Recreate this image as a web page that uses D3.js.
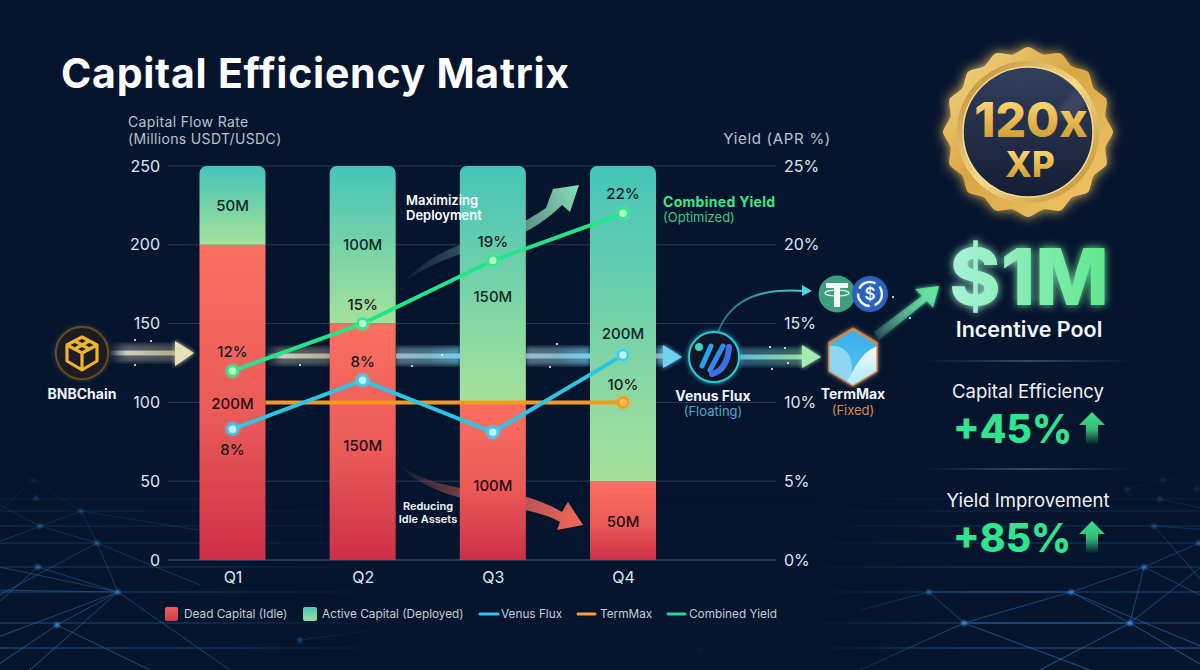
<!DOCTYPE html>
<html>
<head>
<meta charset="utf-8">
<script src="https://cdn.jsdelivr.net/npm/d3@7"></script>
<style>
	html, body { margin: 0; padding: 0; background: #06142c; }
	svg { display: block; }
	text { font-family: Inter, "Open Sans", sans-serif; }
</style>
</head>
<body>
<svg id="chart" width="1200" height="670"></svg>
<script>
const quarters = ["Q1", "Q2", "Q3", "Q4"];
const deadCapital = [200, 150, 100, 50];
const activeCapital = [50, 100, 150, 200];
const venusFlux = [8.3, 11.4, 8.1, 13];
const termMax = [10, 10, 10, 10];
const combinedYield = [12, 15, 19, 22];

const flowTicks = [0, 50, 100, 150, 200, 250];
const yieldTicks = [0, 5, 10, 15, 20, 25];
const deadLabels = ["200M", "150M", "100M", "50M"];
const activeLabels = ["50M", "100M", "150M", "200M"];
const combinedLabels = ["12%", "15%", "19%", "22%"];
const venusLabels = ["8%", "8%", "", ""];
const termLabels = ["", "", "", "10%"];

const legendItems = ["Dead Capital (Idle)", "Active Capital (Deployed)", "Venus Flux", "TermMax", "Combined Yield"];

const svg = d3.select("#chart");
const defs = svg.append("defs");

function linear(id, stops, x2, y2, user) {
	const g = defs.append("linearGradient").attr("id", id)
		.attr("x1", user ? user[0] : 0).attr("y1", user ? user[1] : 0)
		.attr("x2", user ? user[2] : x2).attr("y2", user ? user[3] : y2);
	if (user) g.attr("gradientUnits", "userSpaceOnUse");
	stops.forEach(s => g.append("stop").attr("offset", s[0]).attr("stop-color", s[1]).attr("stop-opacity", s[2] === undefined ? 1 : s[2]));
}

function glow(id, size) {
	const f = defs.append("filter").attr("id", id)
		.attr("x", "-60%").attr("y", "-60%").attr("width", "220%").attr("height", "220%");
	f.append("feGaussianBlur").attr("in", "SourceGraphic").attr("stdDeviation", size).attr("result", "b");
	const m = f.append("feMerge");
	m.append("feMergeNode").attr("in", "b");
	m.append("feMergeNode").attr("in", "SourceGraphic");
}

linear("deadFill", [[0, "#fb6f60"], [0.55, "#ea5a58"], [1, "#cd2f47"]], 0, 1);
linear("activeFill", [[0, "#44c4b8"], [1, "#a6e19a"]], 0, 1);
linear("netFade", [[0, "#2f7fc8", 0], [0.4, "#2f7fc8", 0.45], [1, "#3a8ad8", 0.75]], 0, 0, [0, 470, 0, 670]);
linear("netMaskFill", [[0, "#fff"], [0.17, "#fff", 0.7], [0.32, "#fff", 0.06], [0.68, "#fff", 0.06], [0.8, "#fff", 0.95], [1, "#fff"]], 1, 0);
linear("streakA", [[0, "#fff", 0.05], [0.25, "#f3f1d8", 0.75], [1, "#e3ddb0", 0.65]], 1, 0);
linear("streakB", [[0, "#c8ecf4", 0.6], [0.5, "#9fdcf0", 0.65], [1, "#6fd0f2", 0.95]], 1, 0);
linear("streakC", [[0, "#62c8e8", 0.85], [1, "#a6ecb0", 0.85]], 1, 0);
linear("upArrow", [[0, "#7fe0c0", 0.08], [1, "#63e69a", 1]], 1, 0, [872, 340, 938, 287]);
linear("greenSweep", [[0, "#9fe0cc", 0.02], [0.5, "#9fe0cc", 0.4], [1, "#86dcb6", 1]], 1, 0, [402, 285, 578, 186]);
linear("redSweep", [[0, "#f0726a", 0.03], [0.45, "#e86a62", 0.6], [1, "#f56a58", 1]], 1, 0, [398, 463, 584, 526]);
linear("tealCurve", [[0, "#43b9c6", 0.5], [1, "#4ad6dc", 1]], 1, 0, [718, 335, 812, 290]);
linear("medalRim", [[0, "#f8dc8c"], [0.45, "#d9a544"], [1, "#f4ca6a"]], 1, 1);
linear("medalRing", [[0, "#b98428"], [0.5, "#f6d98a"], [1, "#b8862e"]], 1, 1);
linear("medalCore", [[0, "#33405c"], [1, "#141d36"]], 0, 1);
linear("goldText", [[0, "#ffe68e"], [0.55, "#e6b54a"], [1, "#c18d2c"]], 0, 1);
linear("poolText", [[0, "#a8f2d8"], [1, "#5fe88c"]], 1, 0);
linear("statArrow", [[0, "#3fe08c"], [0.55, "#2fb874"], [1, "#2fb874", 0.05]], 0, 1);
linear("hexFill", [[0, "#35aeea"], [1, "#5cc6f0"]], 0, 1);
linear("hexWave", [[0, "#f6fdff"], [1, "#a6e6f8"]], 0, 1);
linear("divider", [[0, "#7fe0c0", 0], [0.5, "#9fe8cc", 0.55], [1, "#7fe0c0", 0]], 1, 0);
linear("legendDead", [[0, "#f0605e"], [1, "#cf3a4c"]], 0, 1);
linear("legendActive", [[0, "#4cc8b4"], [1, "#96dea0"]], 0, 1);
glow("glowS", 2);
glow("glowM", 4);
glow("glowL", 6);
defs.append("filter").attr("id", "blur2").append("feGaussianBlur").attr("stdDeviation", 2);
defs.append("filter").attr("id", "blur1").append("feGaussianBlur").attr("stdDeviation", 1);
defs.append("mask").attr("id", "netMask")
	.append("rect").attr("width", 1200).attr("height", 670).attr("fill", "url(#netMaskFill)");

svg.append("rect").attr("width", 1200).attr("height", 670).attr("fill", "#06152e");

// backdrop network, left and right corners
const netNodes = [
	[33, 480], [36, 498], [81, 511], [40, 526], [97, 543], [38, 567], [118, 592], [57, 625],
	[929, 592], [964, 623], [1071, 592], [1130, 623], [1144, 567], [1199, 543], [1154, 526], [1160, 499], [1197, 489], [1127, 489], [1163, 480],
	[300, 640], [520, 610], [700, 650]
];
const netEdges = [
	[-10, 520, 0], [-10, 545, 2], [-10, 500, 3], [-10, 610, 5], [-10, 640, 6], [-10, 600, 4], [-10, 670, 7], [30, 670, 6], [150, 670, 7],
	[-10, 565, 6], [-10, 590, 6], [230, 670, 6], [200, 585, 4], [260, 540, 2],
	[860, 610, 8], [860, 670, 9], [1040, 670, 11], [1090, 670, 9], [1210, 670, 11], [1210, 600, 12], [1210, 650, 10], [1210, 560, 11], [1210, 530, 14], [1210, 470, 17], [1210, 510, 15], [1210, 590, 14]
];
const netLinks = [[8, 9], [9, 10], [10, 11], [11, 12], [12, 13], [8, 10], [10, 12], [9, 11], [0, 2], [2, 4], [4, 6], [3, 4], [6, 7], [5, 6], [19, 20], [20, 21]];
const netY = [480, 499, 511, 526, 543, 567, 592, 623, 648];
const net = svg.append("g").attr("mask", "url(#netMask)");
net.selectAll("line.h").data(netY).join("line").attr("class", "h")
	.attr("x1", 0).attr("x2", 1200).attr("y1", d => d).attr("y2", d => d)
	.attr("stroke", "url(#netFade)").attr("stroke-width", 0.8);
net.selectAll("line.e").data(netEdges).join("line").attr("class", "e")
	.attr("x1", d => d[0]).attr("y1", d => d[1])
	.attr("x2", d => netNodes[d[2]][0]).attr("y2", d => netNodes[d[2]][1])
	.attr("stroke", "url(#netFade)").attr("stroke-width", 0.8);
net.selectAll("line.l").data(netLinks).join("line").attr("class", "l")
	.attr("x1", d => netNodes[d[0]][0]).attr("y1", d => netNodes[d[0]][1])
	.attr("x2", d => netNodes[d[1]][0]).attr("y2", d => netNodes[d[1]][1])
	.attr("stroke", "url(#netFade)").attr("stroke-width", 0.8);
net.selectAll("circle").data(netNodes).join("circle")
	.attr("cx", d => d[0]).attr("cy", d => d[1]).attr("r", 2.6)
	.attr("fill", "#3a90d8").attr("opacity", d => Math.min(1, (d[1] - 460) / 160)).attr("filter", "url(#blur1)");

// scales
const bandW = 66;
const x = d3.scalePoint().domain(quarters).range([232.5, 623]);
const yFlow = d3.scaleLinear().domain([0, 250]).range([560, 166]);
const yYield = d3.scaleLinear().domain([0, 25]).range([560, 166]);

// grid
svg.append("g").selectAll("line").data(flowTicks).join("line")
	.attr("x1", 168).attr("x2", 776)
	.attr("y1", d => yFlow(d)).attr("y2", d => yFlow(d))
	.attr("stroke", d => d === 0 ? "#4a5a78" : "#2b3b58").attr("stroke-width", 1);

// flow band running behind the bars
const flow = svg.append("g");
[[110, 65, "streakA"], [266, 64, "streakA"], [396, 64, "streakB"], [526, 64, "streakB"], [656, 10, "streakB"], [738, 66, "streakC"]].forEach(s => {
	const cy = s[0] < 200 ? 353 : s[0] > 700 ? 357 : 356;
	flow.append("rect").attr("x", s[0]).attr("y", cy - 9).attr("width", s[1]).attr("height", 18)
		.attr("fill", "url(#" + s[2] + ")").attr("opacity", s[2] === "streakB" ? 0.7 : 0.45).attr("filter", "url(#blur2)");
	flow.append("rect").attr("x", s[0]).attr("y", cy - 2.5).attr("width", s[1]).attr("height", 5)
		.attr("fill", "url(#" + s[2] + ")");
});
flow.append("path").attr("d", "M175,341 L194,353 L175,366 Z").attr("fill", "#e6e0b8").attr("filter", "url(#glowS)");
flow.append("path").attr("d", "M663,345 L682,357 L663,368 Z").attr("fill", "#6fd2f2").attr("filter", "url(#glowS)");
flow.append("path").attr("d", "M802,345 L821,357 L802,368 Z").attr("fill", "#a6ecb0").attr("filter", "url(#glowS)");
const sparkles = [[135, 340], [151, 341], [135, 365], [300, 365], [442, 355], [412, 366], [557, 344], [550, 367], [770, 347], [785, 348], [772, 369], [788, 363], [893, 297], [910, 318]];
flow.selectAll("circle").data(sparkles).join("circle")
	.attr("cx", d => d[0]).attr("cy", d => d[1]).attr("r", 1.1).attr("fill", "#dff4ff");

// sweep arrows sit behind the Q3 bar
svg.append("path")
	.attr("d", "M402,284 C425,258 455,244 490,236 C512,229 530,219 546,208 L553,189 L579,185 L570,212 L562,205 C545,222 520,238 490,246 C455,254 425,266 402,284 Z")
	.attr("fill", "url(#greenSweep)");
svg.append("path")
	.attr("d", "M398,463 C420,484 465,490 527,497 C540,501 552,506 562,512 L568,502 L583,525 L557,530 L560,522 C550,516 535,512 520,509 C465,502 420,490 398,463 Z")
	.attr("fill", "url(#redSweep)");

// stacked bars
function roundedTop(cx, top, bottom, w, r) {
	const p = d3.path();
	p.moveTo(cx - w / 2, bottom);
	p.lineTo(cx - w / 2, top + r);
	p.arcTo(cx - w / 2, top, cx - w / 2 + r, top, r);
	p.lineTo(cx + w / 2 - r, top);
	p.arcTo(cx + w / 2, top, cx + w / 2, top + r, r);
	p.lineTo(cx + w / 2, bottom);
	p.closePath();
	return p.toString();
}
const bars = svg.append("g");
bars.selectAll("rect").data(quarters).join("rect")
	.attr("x", d => x(d) - bandW / 2).attr("width", bandW)
	.attr("y", (d, i) => yFlow(deadCapital[i])).attr("height", (d, i) => yFlow(0) - yFlow(deadCapital[i]))
	.attr("fill", "url(#deadFill)");
bars.selectAll("path").data(quarters).join("path")
	.attr("d", (d, i) => roundedTop(x(d), yFlow(deadCapital[i] + activeCapital[i]), yFlow(deadCapital[i]), bandW, 7))
	.attr("fill", "url(#activeFill)");

// axes
const leftAxis = d3.axisLeft(yFlow).tickValues(flowTicks).tickSize(0).tickPadding(0);
const rightAxis = d3.axisRight(yYield).tickValues(yieldTicks).tickSize(0).tickPadding(0).tickFormat(d => d + "%");
const bottomAxis = d3.axisBottom(x).tickSize(0).tickPadding(0);
const axisL = svg.append("g").attr("transform", "translate(160,0)").call(leftAxis);
const axisR = svg.append("g").attr("transform", "translate(784,0)").call(rightAxis);
const axisB = svg.append("g").attr("transform", "translate(0,572)").call(bottomAxis);
[axisL, axisR, axisB].forEach(a => {
	a.select(".domain").remove();
	a.selectAll("text").attr("fill", "#dfe5ee").attr("font-size", 16).attr("font-family", "Inter, sans-serif");
});

// value labels on the bars
const deadNudge = { Q1: 1, Q2: 4, Q3: 4, Q4: 1 };
const activeNudge = { Q1: 0, Q2: 0, Q3: 12, Q4: 10 };
bars.selectAll("text.dead").data(quarters).join("text").attr("class", "dead")
	.attr("x", d => x(d))
	.attr("y", (d, i) => yFlow(deadCapital[i] / 2) + deadNudge[d] + 5.5)
	.attr("text-anchor", "middle").attr("font-size", 15).attr("font-weight", 500).attr("fill", "#2a0a14")
	.text((d, i) => deadLabels[i]);
bars.selectAll("text.active").data(quarters).join("text").attr("class", "active")
	.attr("x", d => x(d))
	.attr("y", (d, i) => yFlow(deadCapital[i] + activeCapital[i] / 2) + activeNudge[d] + 5.5)
	.attr("text-anchor", "middle").attr("font-size", 15).attr("font-weight", 500).attr("fill", "#0c2a28")
	.text((d, i) => activeLabels[i]);

// yield lines
svg.append("clipPath").attr("id", "termClip").append("rect")
	.attr("x", x("Q1") + bandW / 2).attr("y", 0).attr("width", 1200).attr("height", 670);
const yieldLine = d3.line().x((d, i) => x(quarters[i])).y(d => yYield(d));
const seriesStyle = [
	{ values: termMax, color: "#f59a1d", dot: "#fbbb58", ring: "#f59a1d", show: [3], clip: true },
	{ values: venusFlux, color: "#2cc5e6", dot: "#bdf3ff", ring: "#3ccbee", show: [0, 1, 2, 3] },
	{ values: combinedYield, color: "#24e48a", dot: "#b6f6c6", ring: "#2fe890", show: [0, 1, 2, 3] }
];
seriesStyle.forEach(s => {
	const g = svg.append("g");
	const path = g.append("path").attr("d", yieldLine(s.values)).attr("fill", "none")
		.attr("stroke", s.color).attr("stroke-width", 4);
	if (s.clip) path.attr("clip-path", "url(#termClip)");
	g.selectAll("circle").data(s.show).join("circle")
		.attr("cx", i => x(quarters[i])).attr("cy", i => yYield(s.values[i])).attr("r", 5)
		.attr("fill", s.dot).attr("stroke", s.ring).attr("stroke-width", 2.5).attr("filter", "url(#glowS)");
});

function yieldLabels(texts, values, dy) {
	svg.append("g").selectAll("text").data(quarters).join("text")
		.attr("x", d => x(d))
		.attr("y", (d, i) => yYield(values[i]) + dy(i))
		.attr("text-anchor", "middle").attr("font-size", 15).attr("font-weight", 500).attr("fill", "#141a20")
		.text((d, i) => texts[i]);
}
yieldLabels(combinedLabels, combinedYield, () => -14);
yieldLabels(venusLabels, venusFlux, i => i === 0 ? 26 : -13);
yieldLabels(termLabels, termMax, () => -12);

// plain text helper for everything that is not tied to a scale
function label(str, px, py, size, weight, fill, anchor) {
	return svg.append("text").attr("x", px).attr("y", py).attr("font-size", size).attr("font-weight", weight)
		.attr("fill", fill).attr("text-anchor", anchor || "start").text(str);
}

label("Capital Efficiency Matrix", 61, 88, 41, 700, "#ffffff").attr("letter-spacing", 0.75);
label("Capital Flow Rate", 128, 127, 14, 400, "#b8c2d0").attr("letter-spacing", 0.35);
label("(Millions USDT/USDC)", 128, 144, 14, 400, "#b8c2d0").attr("letter-spacing", 0.35);
label("Yield (APR %)", 831, 144, 15, 400, "#b8c2d0", "end").attr("letter-spacing", 0.7);
label("Combined Yield", 663, 207, 14, 700, "#3de58b").attr("letter-spacing", 0.3);
label("(Optimized)", 663, 222, 13, 400, "#3cc985");
label("Maximizing", 406, 205, 13, 600, "#ffffff");
label("Deployment", 406, 220, 13, 600, "#ffffff");
label("Reducing", 428, 510, 11, 600, "#f2f4f8", "middle");
label("Idle Assets", 428, 523, 11, 600, "#f2f4f8", "middle");
label("BNBChain", 82, 399, 14, 700, "#eef2f7", "middle");
label("Venus Flux", 713, 401, 14, 700, "#eef2f7", "middle");
label("(Floating)", 713, 416, 13, 400, "#4fa8cc", "middle");
label("TermMax", 853, 399, 14, 700, "#eef2f7", "middle");
label("(Fixed)", 853, 415, 13, 400, "#d98a4a", "middle");

// BNB icon
const bnb = svg.append("g").attr("transform", "translate(82,353)");
bnb.append("circle").attr("r", 26).attr("fill", "#1b1c22").attr("stroke", "#c9952a").attr("stroke-opacity", 0.35).attr("stroke-width", 2).attr("filter", "url(#glowS)");
bnb.append("path").attr("d", "M0,-16 L15,-8 L15,8 L0,17 L-15,8 L-15,-8 Z M-15,-8 L0,0 L15,-8 M0,0 L0,17 M-7,-12 L7,-4 M7,-12 L-7,-4")
	.attr("fill", "none").attr("stroke", "#f0b429").attr("stroke-width", 3.2).attr("stroke-linejoin", "round");

// Venus icon
const venus = svg.append("g").attr("transform", "translate(714,357)");
venus.append("circle").attr("r", 25).attr("fill", "#0b1424").attr("stroke", "#2ec5d8").attr("stroke-width", 2).attr("filter", "url(#glowS)");
venus.append("circle").attr("cx", -15).attr("cy", -10).attr("r", 4).attr("fill", "#35d8b8");
venus.append("line").attr("x1", -3).attr("y1", -11).attr("x2", -12).attr("y2", 9).attr("stroke", "#2aa4f0").attr("stroke-width", 5).attr("stroke-linecap", "round");
venus.append("line").attr("x1", 9).attr("y1", -11).attr("x2", -4).attr("y2", 13).attr("stroke", "#2f8cf0").attr("stroke-width", 5).attr("stroke-linecap", "round");
venus.append("path").attr("d", "M15,-10 C14,4 9,14 -2,17").attr("fill", "none").attr("stroke", "#3f6fe8").attr("stroke-width", 6).attr("stroke-linecap", "round");

// TermMax icon
const hexPts = d3.range(6).map(i => {
	const a = Math.PI / 3 * i - Math.PI / 2;
	return [27 * Math.cos(a), 28 * Math.sin(a)];
});
const term = svg.append("g").attr("transform", "translate(853,357)");
term.append("clipPath").attr("id", "hexClip").append("path").attr("d", d3.line()(hexPts) + "Z");
term.append("path").attr("d", d3.line()(hexPts) + "Z").attr("fill", "url(#hexFill)")
	.attr("stroke", "#e88a3a").attr("stroke-opacity", 0.75).attr("stroke-width", 3).attr("stroke-linejoin", "round").attr("filter", "url(#glowS)");
term.append("path").attr("clip-path", "url(#hexClip)")
	.attr("d", "M-30,-10 C-16,-14 -4,-8 -2,4 C0,14 -2,24 -6,32 L-30,32 Z").attr("fill", "#8fd6f4");
term.append("path").attr("clip-path", "url(#hexClip)")
	.attr("d", "M-12,32 C2,18 4,-8 30,-12 L30,32 Z").attr("fill", "url(#hexWave)");

// arc to the stablecoins
svg.append("path").attr("d", "M718,332 C732,296 765,288 806,291").attr("fill", "none")
	.attr("stroke", "url(#tealCurve)").attr("stroke-width", 2);
svg.append("path").attr("d", "M802,285 L812,291 L802,296 Z").attr("fill", "#4ad6dc");
const tether = svg.append("g").attr("transform", "translate(837,294)");
tether.append("circle").attr("r", 18.5).attr("fill", "#3f9e7f");
tether.append("path").attr("d", "M-11,-11 H11 V-6 H3 V13 H-3 V-6 H-11 Z").attr("fill", "#f2fbf7");
tether.append("ellipse").attr("cy", -1).attr("rx", 12).attr("ry", 3).attr("fill", "none").attr("stroke", "#f2fbf7").attr("stroke-width", 1.2);
const usdc = svg.append("g").attr("transform", "translate(870,294)");
usdc.append("circle").attr("r", 18).attr("fill", "#2b62bc");
usdc.append("circle").attr("r", 12).attr("fill", "none").attr("stroke", "#f2f6fd").attr("stroke-width", 2.4).attr("stroke-dasharray", "14 5 19 5 19 5");
usdc.append("text").attr("y", 6).attr("text-anchor", "middle").attr("font-size", 17).attr("font-weight", 600).attr("fill", "#f2f6fd").text("$");

// arrow up to the pool
svg.append("path").attr("d", "M874,332 L922,296 L915,289 L939,286 L933,308 L927,301 L879,340 Z")
	.attr("fill", "url(#upArrow)").attr("filter", "url(#glowS)");

// medal
const medal = svg.append("g").attr("transform", "translate(1028,132)");
const scallop = d3.lineRadial().curve(d3.curveCardinalClosed.tension(0.3))
	.angle(d => d.a).radius(d => d.r);
const rimPts = d3.range(32).map(i => ({ a: i * Math.PI / 16, r: i % 2 ? 79 : 85 }));
medal.append("path").attr("d", scallop(rimPts)).attr("fill", "url(#medalRim)").attr("filter", "url(#glowL)");
medal.append("circle").attr("r", 71).attr("fill", "url(#medalRing)");
medal.append("circle").attr("r", 65).attr("fill", "url(#medalCore)").attr("stroke", "#f5d98c").attr("stroke-width", 1.5);
medal.append("path").attr("d", "M25,-16 L46,-42 L58,-30 L45,-10 Z").attr("fill", "#5c6478").attr("opacity", 0.35).attr("filter", "url(#blur2)");
label("120x", 1031, 137, 48, 800, "url(#goldText)", "middle");
label("XP", 1030, 177, 35, 800, "url(#goldText)", "middle");

// incentive panel
label("$1M", 1029, 305, 78, 800, "url(#poolText)", "middle").attr("filter", "url(#glowM)");
label("Incentive Pool", 1029, 337, 21.5, 600, "#f3f7fb", "middle");
[361, 469].forEach(yy => {
	svg.append("rect").attr("x", 925).attr("y", yy - 0.5).attr("width", 205).attr("height", 1).attr("fill", "url(#divider)");
});
label("Capital Efficiency", 1028, 398, 18.5, 400, "#eef2f7", "middle");
label("+45%", 953, 443, 39, 800, "#2fe58f");
label("Yield Improvement", 1028, 507, 18.5, 400, "#eef2f7", "middle");
label("+85%", 953, 552, 39, 800, "#2fe58f");
[412, 521].forEach(top => {
	svg.append("path").attr("transform", "translate(1092," + top + ")")
		.attr("d", "M0,0 L13,13 L6,13 L6,32 L-6,32 L-6,13 L-13,13 Z").attr("fill", "url(#statArrow)");
});

// legend
const legendY = 614;
const legendText = [184, 322, 501, 600, 689];
const legend = svg.append("g");
legend.append("rect").attr("x", 165).attr("y", legendY - 7).attr("width", 13).attr("height", 14).attr("rx", 2).attr("fill", "url(#legendDead)");
legend.append("rect").attr("x", 303).attr("y", legendY - 7).attr("width", 14).attr("height", 14).attr("rx", 2).attr("fill", "url(#legendActive)");
[[480, 498, "#2cc5e6"], [578, 595, "#f5a13a"], [668, 685, "#24d890"]].forEach(l => {
	legend.append("line").attr("x1", l[0]).attr("x2", l[1]).attr("y1", legendY).attr("y2", legendY)
		.attr("stroke", l[2]).attr("stroke-width", 3).attr("stroke-linecap", "round");
});
legend.selectAll("text").data(legendItems).join("text")
	.attr("x", (d, i) => legendText[i]).attr("y", legendY + 4)
	.attr("font-size", 11.8).attr("fill", "#c4ccd8").text(d => d);
</script>
</body>
</html>
